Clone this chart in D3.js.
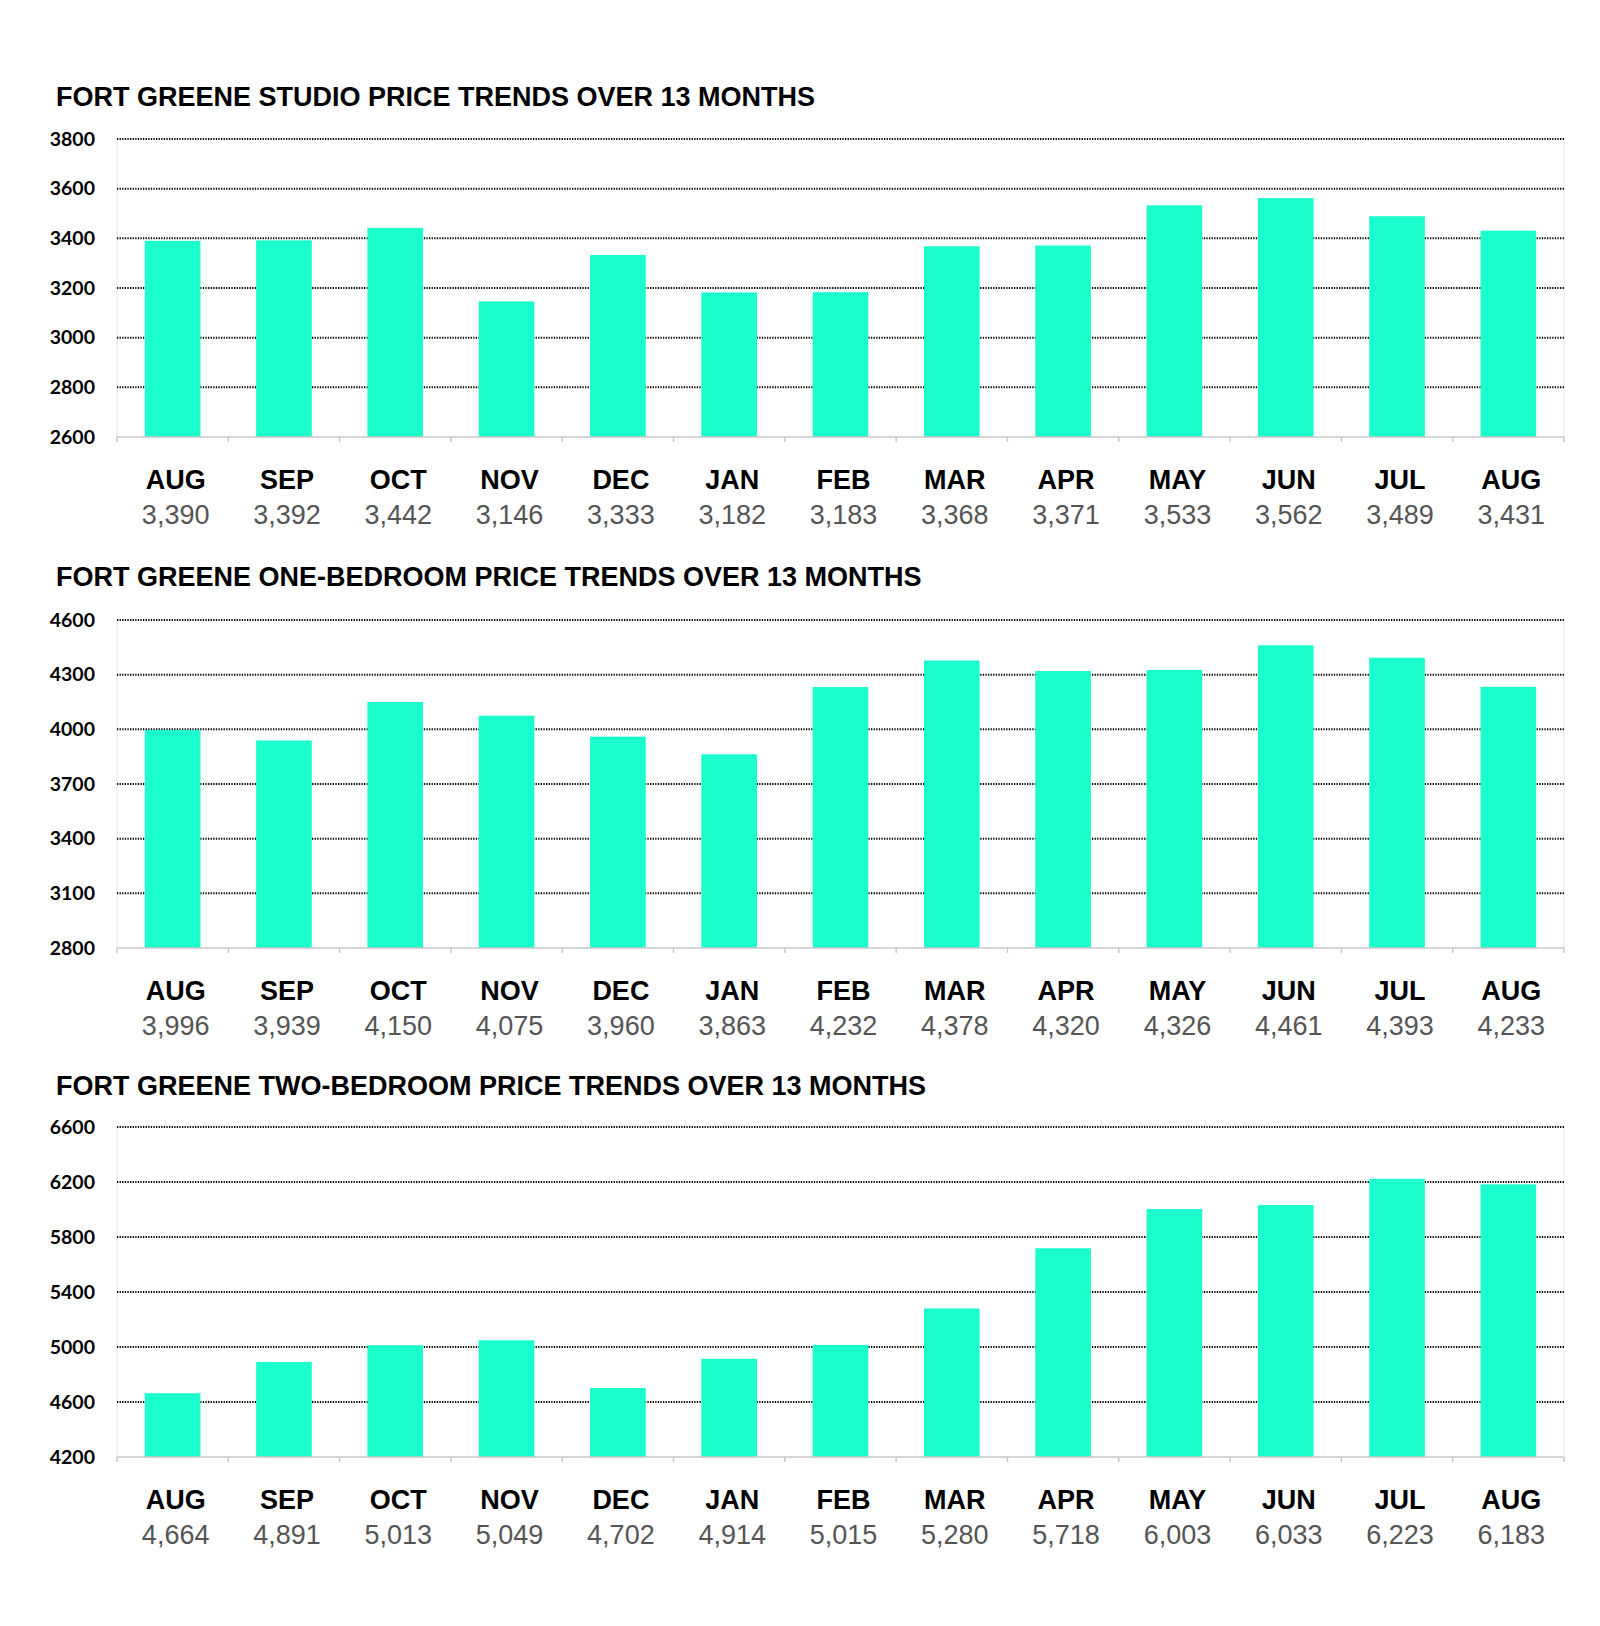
<!DOCTYPE html>
<html>
<head>
<meta charset="utf-8">
<script src="https://cdn.jsdelivr.net/npm/d3@7"></script>
<style>
  body { margin: 0; background: #fff; }
  svg { display: block; }
</style>
</head>
<body>
<script>
var months = ['AUG', 'SEP', 'OCT', 'NOV', 'DEC', 'JAN', 'FEB', 'MAR', 'APR', 'MAY', 'JUN', 'JUL', 'AUG']
var studio = [3390, 3392, 3442, 3146, 3333, 3182, 3183, 3368, 3371, 3533, 3562, 3489, 3431]
var oneBed = [3996, 3939, 4150, 4075, 3960, 3863, 4232, 4378, 4320, 4326, 4461, 4393, 4233]
var twoBed = [4664, 4891, 5013, 5049, 4702, 4914, 5015, 5280, 5718, 6003, 6033, 6223, 6183]
var studioTicks = [2600, 2800, 3000, 3200, 3400, 3600, 3800]
var oneBedTicks = [2800, 3100, 3400, 3700, 4000, 4300, 4600]
var twoBedTicks = [4200, 4600, 5000, 5400, 5800, 6200, 6600]
var titles = [
  'FORT GREENE STUDIO PRICE TRENDS OVER 13 MONTHS',
  'FORT GREENE ONE-BEDROOM PRICE TRENDS OVER 13 MONTHS',
  'FORT GREENE TWO-BEDROOM PRICE TRENDS OVER 13 MONTHS'
]

var width = 1600
var height = 1626
var barColor = '#1affcc'
var left = 117
var right = 1564

var svg = d3.select('body').append('svg')
  .attr('width', width)
  .attr('height', height)

var panels = [
  { title: titles[0], values: studio, ticks: studioTicks, titleY: 97, top: 139, bottom: 437 },
  { title: titles[1], values: oneBed, ticks: oneBedTicks, titleY: 577, top: 620, bottom: 948 },
  { title: titles[2], values: twoBed, ticks: twoBedTicks, titleY: 1086, top: 1127, bottom: 1457 }
]

panels.forEach(drawPanel)

function drawPanel (p) {
  var g = svg.append('g')
  var idx = d3.range(months.length)

  var x = d3.scaleBand()
    .domain(idx)
    .range([left, right])
    .paddingInner(0.5)
    .paddingOuter(0.25)

  var y = d3.scaleLinear()
    .domain(d3.extent(p.ticks))
    .range([p.bottom, p.top])

  // title
  g.append('text')
    .attr('x', 56)
    .attr('y', p.titleY)
    .attr('dy', '0.35em')
    .style('font-family', '"Liberation Sans", Arial, sans-serif')
    .style('font-weight', 'bold')
    .style('font-size', '27px')
    .text(p.title)

  // side borders
  g.selectAll('line.side')
    .data([left, right])
    .enter().append('line')
    .attr('class', 'side')
    .attr('x1', function (d) { return d })
    .attr('x2', function (d) { return d })
    .attr('y1', p.top)
    .attr('y2', p.bottom)
    .style('stroke', '#e4e4e4')
    .style('stroke-width', 1)

  // gridlines (dotted)
  g.selectAll('line.grid')
    .data(p.ticks.slice(1))
    .enter().append('line')
    .attr('class', 'grid')
    .attr('x1', left)
    .attr('x2', right)
    .attr('y1', function (d) { return y(d) })
    .attr('y2', function (d) { return y(d) })
    .style('stroke', '#000')
    .style('stroke-width', 2)
    .style('stroke-dasharray', '1.3,1.3')

  // y tick labels
  g.selectAll('text.ytick')
    .data(p.ticks)
    .enter().append('text')
    .attr('class', 'ytick')
    .attr('x', 95)
    .attr('y', function (d) { return y(d) })
    .attr('dy', '0.35em')
    .attr('text-anchor', 'end')
    .style('font-family', 'Lato, "Open Sans", sans-serif')
    .style('font-weight', 'bold')
    .style('font-size', '19.5px')
    .text(function (d) { return d })

  // bars
  g.selectAll('rect.bar')
    .data(p.values)
    .enter().append('rect')
    .attr('class', 'bar')
    .attr('x', function (d, i) { return x(i) })
    .attr('width', x.bandwidth())
    .attr('y', function (d) { return y(d) })
    .attr('height', function (d) { return p.bottom - y(d) })
    .style('fill', barColor)

  // x axis line and ticks
  g.append('line')
    .attr('x1', left)
    .attr('x2', right)
    .attr('y1', p.bottom)
    .attr('y2', p.bottom)
    .style('stroke', '#c8c8c8')
    .style('stroke-width', 1.5)

  var step = x.step()
  g.selectAll('line.xtick')
    .data(d3.range(months.length + 1))
    .enter().append('line')
    .attr('class', 'xtick')
    .attr('x1', function (d) { return left + d * step })
    .attr('x2', function (d) { return left + d * step })
    .attr('y1', p.bottom)
    .attr('y2', p.bottom + 5)
    .style('stroke', '#c8c8c8')
    .style('stroke-width', 1.5)

  // month labels
  g.selectAll('text.month')
    .data(months)
    .enter().append('text')
    .attr('class', 'month')
    .attr('x', function (d, i) { return x(i) + x.bandwidth() / 2 + 3 })
    .attr('y', p.bottom + 43)
    .attr('dy', '0.35em')
    .attr('text-anchor', 'middle')
    .style('font-family', '"Liberation Sans", Arial, sans-serif')
    .style('font-weight', 'bold')
    .style('font-size', '27px')
    .text(function (d) { return d })

  // value labels
  g.selectAll('text.val')
    .data(p.values)
    .enter().append('text')
    .attr('class', 'val')
    .attr('x', function (d, i) { return x(i) + x.bandwidth() / 2 + 3 })
    .attr('y', p.bottom + 78)
    .attr('dy', '0.35em')
    .attr('text-anchor', 'middle')
    .style('font-family', '"Liberation Sans", Arial, sans-serif')
    .style('font-size', '27px')
    .style('fill', '#555')
    .text(function (d) { return d3.format(',')(d) })
}
</script>
</body>
</html>
